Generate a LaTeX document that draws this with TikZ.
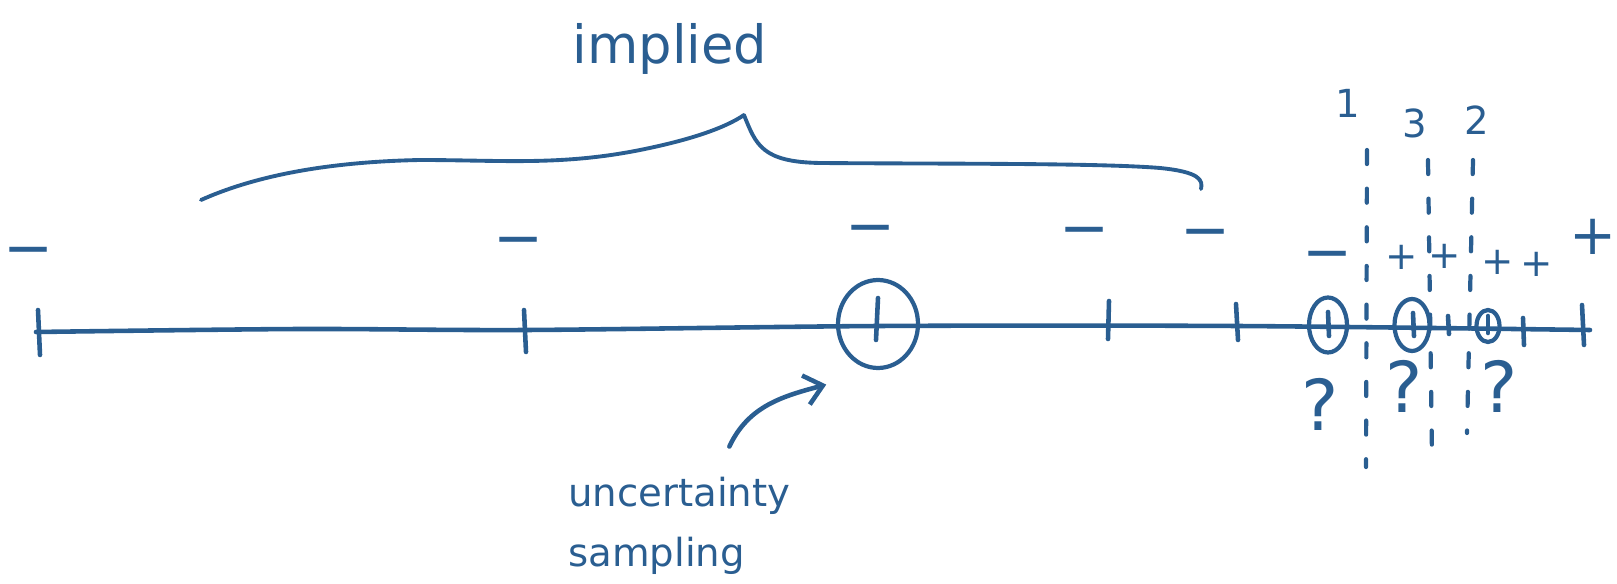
\documentclass[tikz,border=0pt]{standalone}
\usepackage{fontspec}
\setmainfont{DejaVu Sans}
\usetikzlibrary{shapes.geometric, arrows.meta}
\definecolor{ink}{HTML}{2A5E91}

\begin{document}
\begin{tikzpicture}[
    x=0.02cm, y=-0.02cm,
    every node/.style={text=ink, inner sep=0pt},
    pen/.style={draw=ink, line width=2.6pt, line cap=round, line join=round},
    ring/.style={pen, ellipse, line width=2.4pt},
    sep/.style={pen, line width=2.4pt, dash pattern=on 8pt off 14pt},
    hand/.style={font=\fontsize{22}{34}\selectfont},
    neg/.style={font=\fontsize{34}{34}\selectfont, anchor=mid},
    plus/.style={font=\fontsize{22}{22}\selectfont, anchor=mid},
    qlbl/.style={font=\fontsize{22}{22}\selectfont},
    unk/.style={font=\fontsize{40}{40}\selectfont},
    arr/.style={pen, -{Straight Barb[length=3.5mm, width=6mm]}}
]
    \useasboundingbox (0,0) rectangle (1617,584);

    % number line
    \draw[pen] plot[smooth, tension=0.5] coordinates {(36,332) (300,329) (526,330)
        (879,326) (1237,326) (1590,330)};
    \draw[pen] (38,310) -- (40,355);
    \draw[pen] (524,310) -- (526,352);
    \draw[pen] (878,298) -- (876,340);
    \draw[pen] (1109,301) -- (1108,339);
    \draw[pen] (1236,304) -- (1238,340);
    \draw[pen] (1328,312) -- (1329,336);
    \draw[pen] (1413,313) -- (1414,336);
    \draw[pen] (1448,316) -- (1449,334);
    \draw[pen] (1488,316) -- (1488,333);
    \draw[pen] (1523,318) -- (1524,345);
    \draw[pen] (1582,305) -- (1584,345);

    % labelled points
    \node[neg] (n1) at (29,264) {−};
    \node[neg] (n2) at (519,254) {−};
    \node[neg] (n3) at (871,242) {−};
    \node[neg] (n4) at (1085,244) {−};
    \node[neg] (n5) at (1206,246) {−};
    \node[neg] (n6) at (1328,268) {−};
    \node[plus] (p1) at (1402,265) {+};
    \node[plus] (p2) at (1445,264) {+};
    \node[plus] (p3) at (1498,270) {+};
    \node[plus] (p4) at (1537,272) {+};
    \node[plus, font=\fontsize{32}{32}\selectfont] (p5) at (1593,250) {+};

    % implied part
    \draw[pen, line width=2.2pt] (201,200) .. controls (250,178) and (320,162) .. (420,160)
        .. controls (500,160) and (560,166) .. (640,150)
        .. controls (690,140) and (725,128) .. (744,115);
    \draw[pen, line width=2.2pt] (744,115) .. controls (756,145) and (762,162) .. (820,163)
        .. controls (950,164) and (1100,163) .. (1160,168)
        .. controls (1200,172) and (1203,180) .. (1201,189);
    \node[font=\fontsize{30}{34}\selectfont, anchor=base] (impl) at (670,64) {implied};

    % queried points
    \node[ring, minimum width=1.6cm, minimum height=1.76cm] (pick) at (878,324) {};
    \node[ring, minimum width=0.76cm, minimum height=1.1cm] (c1) at (1328,325) {};
    \node[ring, minimum width=0.7cm, minimum height=1.04cm] (c3) at (1412,325) {};
    \node[ring, minimum width=0.46cm, minimum height=0.64cm] (c2) at (1488,326) {};

    % query rounds
    \node[qlbl] (q1) at (1348,103) {1};
    \node[qlbl] (q3) at (1415,123) {3};
    \node[qlbl] (q2) at (1477,120) {2};
    \draw[sep] (1367,150) -- (1366,467);
    \draw[sep] (1428,160) -- (1432,455);
    \draw[sep] (1473,160) -- (1467,433);
    \node[unk] (u1) at (1320,404) {?};
    \node[unk] (u3) at (1404,386) {?};
    \node[unk] (u2) at (1499,386) {?};

    \node[hand, align=left, anchor=base west] (note) at (568,566) {uncertainty\\sampling};
    \draw[arr] ([shift={(1cm,0.6cm)}]note.north) to[out=65, in=195]
        ([shift={(-0.44cm,-0.56cm)}]pick.south west);
\end{tikzpicture}
\end{document}
